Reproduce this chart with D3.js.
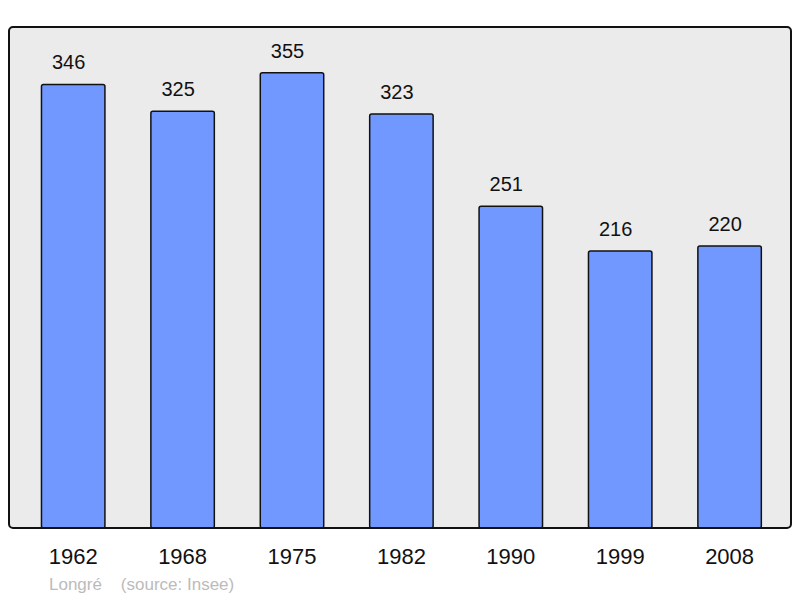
<!DOCTYPE html>
<html>
<head>
<meta charset="utf-8">
<script src="https://cdn.jsdelivr.net/npm/d3@7"></script>
<style>
  body { margin: 0; background: #fff; }
  svg { display: block; font-family: "Liberation Sans", Arial, sans-serif; }
</style>
</head>
<body>
<svg id="chart"></svg>
<script>
const years = ['1962', '1968', '1975', '1982', '1990', '1999', '2008'];
const population = [346, 325, 355, 323, 251, 216, 220];
const commune = 'Longré';
const source = '(source: Insee)';

const width = 800, height = 598;
const panel = { left: 9, top: 27, right: 791, bottom: 528 };

const svg = d3.select('#chart')
  .attr('width', width)
  .attr('height', height);

const x = d3.scaleBand()
  .domain(years)
  .range([18.5, 784.3])
  .paddingInner(0.42)
  .paddingOuter(0.21);

const y = d3.scaleLinear()
  .domain([0, 390])
  .range([panel.bottom, panel.top + 1]);

svg.append('rect')
  .attr('x', panel.left)
  .attr('y', panel.top)
  .attr('width', panel.right - panel.left)
  .attr('height', panel.bottom - panel.top)
  .attr('rx', 4)
  .attr('fill', '#ebebeb')
  .attr('stroke', 'none');

svg.append('g')
  .selectAll('rect')
  .data(population)
  .join('rect')
  .attr('x', (d, i) => x(years[i]))
  .attr('y', d => y(d))
  .attr('width', x.bandwidth())
  .attr('height', d => y(0) - y(d))
  .attr('rx', 2)
  .attr('fill', '#7098ff')
  .attr('stroke', '#111')
  .attr('stroke-width', 1.5);

// border drawn on top so bars meet it cleanly
svg.append('rect')
  .attr('x', panel.left)
  .attr('y', panel.top)
  .attr('width', panel.right - panel.left)
  .attr('height', panel.bottom - panel.top)
  .attr('rx', 4)
  .attr('fill', 'none')
  .attr('stroke', '#111')
  .attr('stroke-width', 2);

// value labels sit a little left of the bar centre, as in the original
svg.append('g')
  .attr('font-size', 20)
  .attr('text-anchor', 'middle')
  .selectAll('text')
  .data(population)
  .join('text')
  .attr('x', (d, i) => x(years[i]) + x.bandwidth() / 2 - 4.5)
  .attr('y', d => y(d) - 15)
  .attr('fill', '#111')
  .text(d => d);

const xAxis = g => g
  .attr('transform', `translate(0,${panel.bottom})`)
  .call(d3.axisBottom(x).tickSize(0).tickPadding(20))
  .call(g => g.select('.domain').remove())
  .call(g => g.selectAll('text')
    .attr('font-size', 22)
    .attr('fill', '#111')
    .attr('font-family', '"Liberation Sans", Arial, sans-serif'));

svg.append('g').call(xAxis);

svg.append('text')
  .attr('x', 49)
  .attr('y', 590)
  .attr('font-size', 17)
  .attr('fill', '#bbb')
  .attr('xml:space', 'preserve')
  .text(`${commune}    ${source}`);
</script>
</body>
</html>
